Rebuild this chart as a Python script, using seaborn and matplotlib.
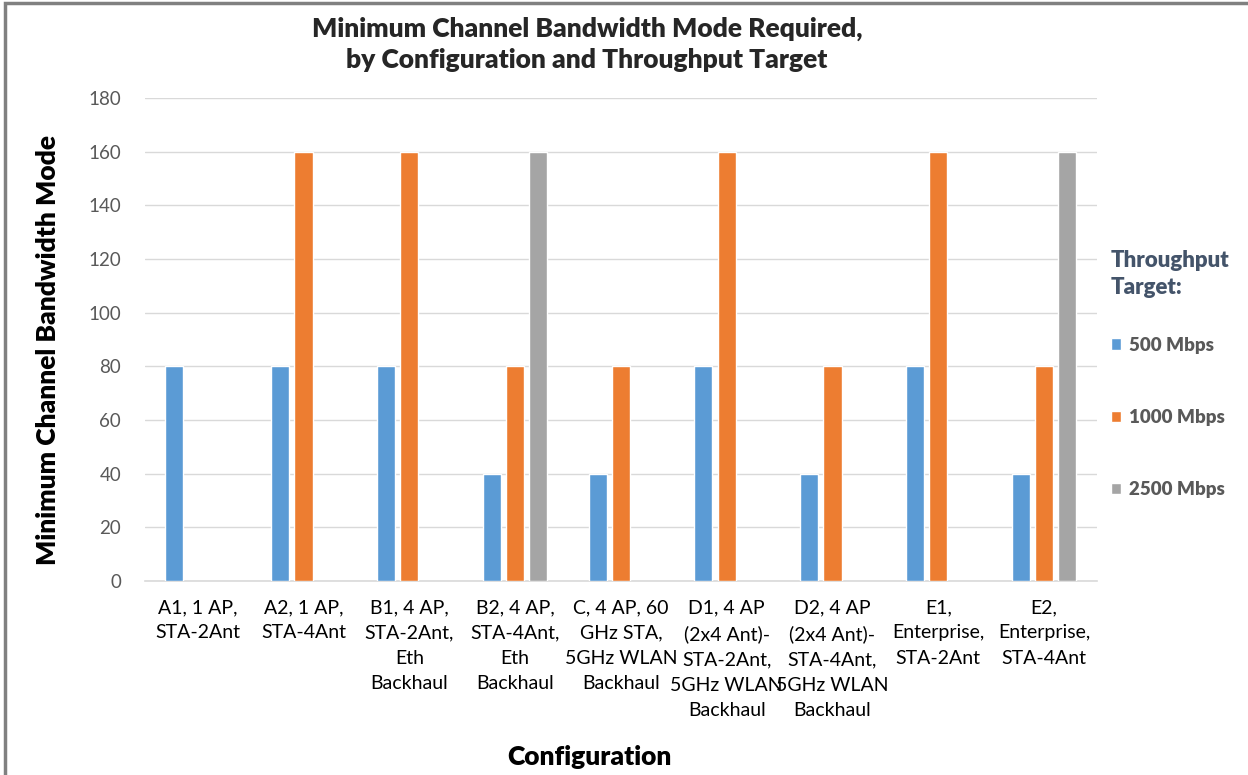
import numpy as np
import pandas as pd
import matplotlib.pyplot as plt
import seaborn as sns
from matplotlib.patches import Rectangle

# -----------------------------
# Data
# -----------------------------
configs = [
    "A1, 1 AP,\nSTA-2Ant",
    "A2, 1 AP,\nSTA-4Ant",
    "B1, 4 AP,\nSTA-2Ant,\nEth\nBackhaul",
    "B2, 4 AP,\nSTA-4Ant,\nEth\nBackhaul",
    "C, 4 AP, 60\nGHz STA,\n5GHz WLAN\nBackhaul",
    "D1, 4 AP\n(2x4 Ant)-\nSTA-2Ant,\n5GHz WLAN\nBackhaul",
    "D2, 4 AP\n(2x4 Ant)-\nSTA-4Ant,\n5GHz WLAN\nBackhaul",
    "E1,\nEnterprise,\nSTA-2Ant",
    "E2,\nEnterprise,\nSTA-4Ant",
]
targets = ["500 Mbps", "1000 Mbps", "2500 Mbps"]
bw_500 = [80, 80, 80, 40, 40, 80, 40, 80, 40]
bw_1000 = [np.nan, 160, 160, 80, 80, 160, 80, 160, 80]
bw_2500 = [np.nan, np.nan, np.nan, 160, np.nan, np.nan, np.nan, np.nan, 160]
colors = ["#5B9BD5", "#ED7D31", "#A5A5A5"]

rows = []
for t, vals in zip(targets, [bw_500, bw_1000, bw_2500]):
    for c, v in zip(configs, vals):
        rows.append({"Configuration": c, "Target": t, "Mode": v})
df = pd.DataFrame(rows)

# -----------------------------
# Style
# -----------------------------
sns.set_style("white")
plt.rcParams['font.family'] = ['Lato', 'DejaVu Sans']
HEAVY = 800

fig = plt.figure(figsize=(12.48, 7.75), dpi=100)
ax = fig.add_axes([0.116, 0.2503, 0.763, 0.6232])

sns.barplot(data=df, x="Configuration", y="Mode", hue="Target",
            hue_order=targets, order=configs, palette=colors,
            width=0.66, gap=0.22, errorbar=None, saturation=1,
            ax=ax, legend=True, zorder=3)

ax.set_ylim(0, 180)
ax.set_yticks(range(0, 181, 20))
ax.yaxis.grid(True, color="#D9D9D9", lw=1, zorder=0)
ax.set_axisbelow(True)
for s in ["top", "right", "left"]:
    ax.spines[s].set_visible(False)
ax.spines["bottom"].set_color("#D9D9D9")
ax.spines["bottom"].set_linewidth(1.2)
ax.tick_params(axis="both", length=0, labelcolor="#595959")
ax.tick_params(axis="x", pad=13, labelsize=14)
ax.tick_params(axis="y", pad=17, labelsize=13.5)
for t in ax.get_xticklabels():
    t.set_linespacing(1.6)
    t.set_color("black")

ax.set_xlabel("Configuration", fontsize=19, fontweight=HEAVY, color="black")
ax.xaxis.set_label_coords((590 - 145) / 952, (581 - 745) / 483)
ax.set_ylabel("Minimum Channel Bandwidth Mode", fontsize=19, fontweight=HEAVY,
              color="black")
ax.yaxis.set_label_coords((60 - 145) / 952, (581 - 350) / 483)

fig.text(587 / 1248, 1 - 44 / 775,
         "Minimum Channel Bandwidth Mode Required,\nby Configuration and Throughput Target",
         ha="center", va="center", fontsize=19, fontweight=HEAVY, linespacing=1.35)

# Legend
handles, labels = ax.get_legend_handles_labels()
leg = ax.legend(handles, labels, title="Throughput\nTarget:", loc="upper left",
                bbox_to_anchor=(1094 / 1248, 1 - 233 / 775), bbox_transform=fig.transFigure,
                frameon=False, handlelength=0.55, handleheight=0.55, handletextpad=0.4,
                labelspacing=2.95, fontsize=13.5, title_fontsize=16, alignment="left")
leg.get_title().set_color("#44546A")
leg.get_title().set_fontweight(HEAVY)
leg.get_title().set_linespacing(1.35)
for txt in leg.get_texts():
    txt.set_color("#595959")
    txt.set_fontweight(HEAVY)
leg._legend_box.sep = 28

# Outer chart border (top and left visible)
fig.patches.append(Rectangle((5 / 1248, -0.1), 1.2, 1 - 3 / 775 + 0.1,
                             transform=fig.transFigure, fill=False,
                             edgecolor="#808080", lw=2.5))

plt.savefig("out.png", dpi=100)
plt.close()
